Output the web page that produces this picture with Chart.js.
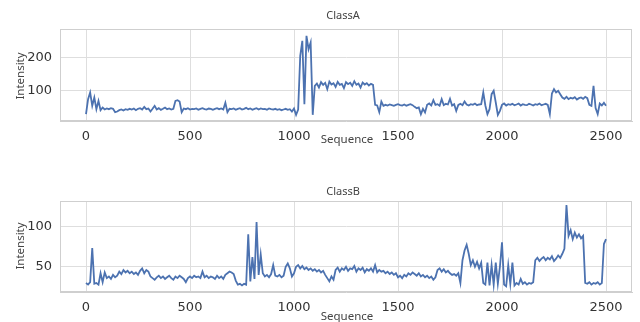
<!DOCTYPE html>
<html>
<head>
<meta charset="utf-8">
<script src="https://cdn.jsdelivr.net/npm/chart.js@4"></script>
<style>
  body { margin: 0; background: #fff; }
  .panel { position: absolute; left: 0; width: 640px; height: 161px; }
</style>
</head>
<body>
<div class="panel" style="top:0"><canvas id="chartA" width="640" height="161"></canvas></div>
<div class="panel" style="top:161px"><canvas id="chartB" width="640" height="161"></canvas></div>
<script>
const seqStep = 10;
const xTicks = [0, 500, 1000, 1500, 2000, 2500];
const yTicksA = [100, 200];
const yTicksB = [50, 100];

const classA = [
  30, 75, 95, 55, 80, 45, 70, 42, 50, 44,
  47, 45, 48, 46, 36, 38, 42, 44, 41, 45,
  43, 46, 44, 47, 42, 46, 48, 44, 52, 45,
  47, 38, 46, 55, 44, 48, 43, 46, 50, 45,
  47, 44, 46, 70, 72, 68, 36, 47, 45, 48,
  44, 46, 45, 47, 43, 46, 48, 45, 44, 47,
  46, 43, 46, 48, 45, 47, 44, 64, 36, 46,
  45, 47, 43, 46, 48, 44, 46, 49, 45, 47,
  43, 46, 48, 44, 47, 45, 46, 43, 47, 45,
  44, 46, 43, 45, 42, 44, 46, 43, 45, 38,
  47, 28, 44, 205, 250, 60, 265, 225, 245, 28,
  115, 122, 110, 126, 118, 124, 105, 128, 119, 123,
  112, 127, 118, 121, 108, 126, 120, 124, 115, 129,
  118, 122, 110, 125, 119, 123, 116, 121, 118, 58,
  56, 36, 68, 55, 58, 56, 59, 57, 55, 58,
  60, 57, 56, 59, 55, 58, 60, 57, 52, 48,
  50, 30, 46, 35, 58, 62, 56, 72, 58, 60,
  55, 75, 57, 61, 59, 76, 56, 60, 40, 58,
  61, 57, 68, 59, 56, 60, 58, 62, 57, 59,
  60, 95, 56, 30, 45, 90, 100, 65, 28, 40,
  58, 62, 56, 60, 58, 61, 57, 59, 62, 56,
  60, 58, 57, 61, 59, 56, 60, 58, 62, 57,
  59, 61, 58, 30, 92, 105, 95, 100, 90, 80,
  76, 82, 75, 79, 77, 81, 74, 78, 80, 76,
  82, 78, 58, 55, 115, 48, 30, 62, 56, 64,
  55
];

const classB = [
  30, 28, 31, 73, 29, 30, 28, 42, 31, 43,
  36, 38, 35, 40, 37, 39, 44, 41, 46, 43,
  45, 42, 44, 41, 43, 40, 45, 48, 42, 46,
  44, 38, 36, 34, 37, 39, 36, 38, 35, 37,
  39, 36, 34, 38, 36, 39, 37, 35, 31, 36,
  38, 36, 39, 37, 38, 36, 44, 37, 39, 36,
  38, 37, 35, 39, 36, 38, 35, 40, 42, 44,
  43, 41, 33, 28, 29, 27, 29, 28, 90, 32,
  62, 35, 105, 40, 65, 42, 38, 40, 37, 41,
  52, 39, 38, 40, 37, 39, 50, 54, 48, 38,
  42, 50, 52, 48, 51, 47, 49, 46, 48, 45,
  47, 44, 46, 43, 45, 40, 36, 32, 38, 34,
  46, 49, 44, 48, 46, 50, 45, 48, 47, 51,
  44, 48, 46, 49, 43, 47, 45, 48, 44, 52,
  43, 46, 44, 45, 42, 44, 41, 43, 40, 42,
  37, 39, 36, 40, 38, 42, 40, 43, 41, 39,
  42, 38, 40, 37, 39, 36, 38, 34, 37, 46,
  48, 44, 47, 43, 45, 42, 40, 41, 39, 42,
  30, 58, 70, 77, 66, 52, 58, 50, 56, 48,
  55, 30, 28, 55, 27, 52, 28, 55, 29, 50,
  80, 28, 26, 52, 29, 55, 27, 30, 28, 35,
  29, 31, 28, 30, 29, 31, 58, 61, 57, 60,
  62, 58, 61, 59, 63, 57, 60, 64, 61, 66,
  72, 126, 88, 95, 84, 92, 86, 90, 85, 88,
  30, 29, 31, 28, 30, 29, 31, 28, 30, 78,
  84
];

const panelText = {
  id: 'panelText',
  beforeDatasetsDraw(chart) {
    // seaborn-style box on all four sides
    const a = chart.chartArea;
    const ctx = chart.ctx;
    ctx.save();
    ctx.strokeStyle = '#cfcfcf';
    ctx.lineWidth = 1;
    ctx.strokeRect(a.left + 0.5, a.top + 0.5, a.right - a.left - 1, a.bottom - a.top - 1);
    ctx.restore();
  },
  afterDraw(chart, args, opts) {
    const ctx = chart.ctx;
    ctx.save();
    ctx.fillStyle = '#444';
    ctx.textAlign = 'center';
    ctx.textBaseline = 'middle';
    ctx.font = '11px "Noto Sans"';
    ctx.fillText(opts.title, 343, opts.titleY);
    ctx.font = '11.5px "Noto Sans"';
    ctx.fillText('Sequence', 347, opts.xlabY);
    ctx.translate(21, opts.ylabY);
    ctx.rotate(-Math.PI / 2);
    ctx.fillText('Intensity', 0, 0);
    ctx.restore();
  }
};

function makeChart(id, values, yMin, yMax, yTicks, padTop, xHeight, text) {
  const points = values.map((v, i) => ({ x: i * seqStep, y: v }));
  const tickFont = { family: 'DejaVu Sans', size: 13 };
  return new Chart(document.getElementById(id), {
    type: 'line',
    data: {
      datasets: [{
        data: points,
        borderColor: '#4c72b0',
        borderWidth: 1.8,
        pointRadius: 0,
        tension: 0,
        fill: false
      }]
    },
    options: {
      responsive: false,
      animation: false,
      devicePixelRatio: 1,
      layout: { padding: { left: 0, right: 8, top: padTop, bottom: 0 } },
      plugins: {
        legend: { display: false },
        tooltip: { enabled: false },
        panelText: text
      },
      scales: {
        x: {
          type: 'linear',
          min: -125,
          max: 2625,
          afterBuildTicks: s => { s.ticks = xTicks.map(v => ({ value: v })); },
          afterFit: s => { s.height = xHeight; },
          grid: { color: '#dedede', lineWidth: 1, drawTicks: false },
          border: { color: '#cfcfcf', width: 1 },
          ticks: {
            padding: 8,
            maxRotation: 0,
            color: '#333',
            font: tickFont,
            callback: v => String(v)
          }
        },
        y: {
          min: yMin,
          max: yMax,
          afterBuildTicks: s => { s.ticks = yTicks.map(v => ({ value: v })); },
          afterFit: s => { s.width = 60; },
          grid: { color: '#dedede', lineWidth: 1, drawTicks: false },
          border: { color: '#cfcfcf', width: 1 },
          ticks: {
            padding: 8,
            color: '#333',
            font: tickFont,
            callback: v => String(v)
          }
        }
      }
    },
    plugins: [panelText]
  });
}

makeChart('chartA', classA, 9.5, 285.5, yTicksA, 29, 40,
  { title: 'ClassA', titleY: 16, xlabY: 139.5, ylabY: 76 });
makeChart('chartB', classB, 18.9, 131, yTicksB, 40, 30,
  { title: 'ClassB', titleY: 31, xlabY: 156, ylabY: 85 });
</script>
</body>
</html>
